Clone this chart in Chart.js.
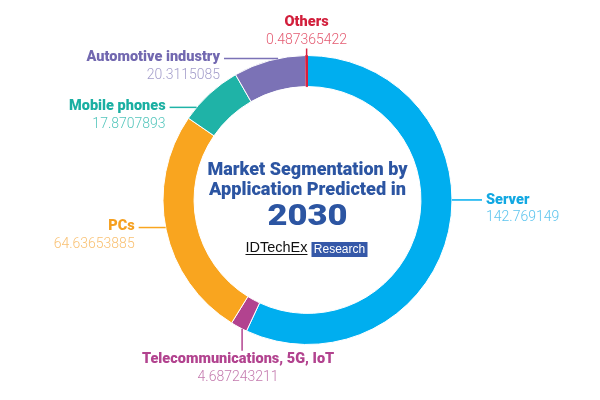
<!DOCTYPE html>
<html>
<head>
<meta charset="utf-8">
<script src="https://cdn.jsdelivr.net/npm/chart.js@4.4.1/dist/chart.umd.min.js"></script>
<style>
html,body{margin:0;padding:0;background:#fff;}
#wrap{width:600px;height:400px;position:relative;}
</style>
</head>
<body>
<div id="wrap"><canvas id="c" width="600" height="400"></canvas></div>
<script>
// ---- data ----
const categories = ['Server', 'Telecommunications, 5G, IoT', 'PCs', 'Mobile phones', 'Automotive industry', 'Others'];
const values = [142.769149, 4.687243211, 64.63653885, 17.8707893, 20.3115085, 0.487365422];
const valueLabels = ['142.769149', '4.687243211', '64.63653885', '17.8707893', '20.3115085', '0.487365422'];
const titleLines = ['Market Segmentation by', 'Application Predicted in'];
const yearLabel = '2030';
const brandName = 'IDTechEx';
const brandTag = 'Research';

// ---- styles ----
const sliceColors = ['#00AEEF', '#B2438F', '#F9A51F', '#1FB3A7', '#7B72B6', '#D81E3E'];
const nameColors  = ['#12A8E2', '#B2438F', '#F5A020', '#1AAFA2', '#7268B0', '#D21F3C'];
const valColors   = ['#5CC4EE', '#C47AAE', '#F9C173', '#55C6BC', '#A49ECB', '#E45C72'];
// leader layout: fraction within slice where leader meets ring, direction, length
const leaders = [
  {f: 0.439, dir: 'right', len: 30},
  {f: 0.29,  dir: 'down',  len: 22},
  {f: 0.51,  dir: 'left',  len: 27},
  {f: 0.21,  dir: 'left',  len: 27},
  {f: 0.62,  dir: 'left',  len: 54},
  {f: 0.5,   dir: 'up',    len: 7}
];
const titleColor = '#2C55A2';

function fitText(ctx, text, x, y, targetW) {
  const w = ctx.measureText(text).width;
  ctx.save();
  ctx.translate(x, y);
  ctx.scale(targetW / w, 1);
  ctx.fillText(text, 0, 0);
  ctx.restore();
}

const labelPlugin = {
  id: 'outLabels',
  afterDatasetsDraw(chart) {
    const ctx = chart.ctx;
    const meta = chart.getDatasetMeta(0);
    meta.data.forEach((arc, i) => {
      const p = arc.getProps(['x','y','startAngle','endAngle','outerRadius'], true);
      const L = leaders[i];
      const a = p.startAngle + L.f * (p.endAngle - p.startAngle);
      const x0 = p.x + p.outerRadius * Math.cos(a);
      const y0 = p.y + p.outerRadius * Math.sin(a);
      let x1 = x0, y1 = y0;
      if (L.dir === 'left') x1 = x0 - L.len;
      else if (L.dir === 'right') x1 = x0 + L.len;
      else if (L.dir === 'up') y1 = y0 - L.len;
      else y1 = y0 + L.len;
      ctx.save();
      ctx.strokeStyle = sliceColors[i];
      ctx.lineWidth = 1.5;
      ctx.beginPath(); ctx.moveTo(x0, y0); ctx.lineTo(x1, y1); ctx.stroke();
      ctx.textBaseline = 'middle';
      const nameFont = '900 14.5px Roboto';
      const valFont = '300 14px Roboto';
      let nx, ny, vx, vy, align;
      if (L.dir === 'left') { align = 'right'; nx = vx = x1 - 4; ny = y1 - 1; vy = y1 + 17; }
      else if (L.dir === 'right') { align = 'left'; nx = vx = x1 + 4; ny = y1; vy = y1 + 18; }
      else if (L.dir === 'up') { align = 'center'; nx = vx = x1; vy = y1 - 8; ny = y1 - 26; }
      else { align = 'center'; nx = vx = x1 - 4; ny = y1 + 9; vy = y1 + 27; }
      ctx.textAlign = align;
      ctx.font = nameFont; ctx.fillStyle = nameColors[i];
      ctx.fillText(categories[i], nx, ny);
      ctx.font = valFont; ctx.fillStyle = valColors[i];
      ctx.fillText(valueLabels[i], vx, vy);
      ctx.restore();
    });
    // centre text
    const c = meta.data[0];
    const cx = c.x, cy = c.y;
    ctx.save();
    ctx.textAlign = 'center';
    ctx.textBaseline = 'middle';
    ctx.fillStyle = titleColor;
    ctx.font = '900 19px Roboto';
    fitText(ctx, titleLines[0], cx, cy - 30, 200);
    fitText(ctx, titleLines[1], cx, cy - 10, 197);
    ctx.font = '900 29px Roboto';
    fitText(ctx, yearLabel, cx, cy + 18, 80);
    // brand
    ctx.font = '14px "Liberation Sans"';
    ctx.textAlign = 'left';
    ctx.fillStyle = '#111';
    const bx = cx - 62, by = cy + 48;
    ctx.save();
    const bw0 = ctx.measureText(brandName).width;
    ctx.translate(bx, by);
    ctx.scale(62 / bw0, 1);
    ctx.fillText(brandName, 0, 0);
    ctx.restore();
    ctx.fillRect(bx, by + 6, 62, 1);
    ctx.fillStyle = '#3558A8';
    ctx.fillRect(cx + 4, cy + 42, 56, 15);
    ctx.fillStyle = '#fff';
    ctx.font = '12px "Liberation Sans"';
    ctx.textAlign = 'center';
    ctx.fillText(brandTag, cx + 32, cy + 50);
    ctx.restore();
  }
};

new Chart(document.getElementById('c'), {
  type: 'doughnut',
  data: {
    labels: categories,
    datasets: [{
      data: values,
      backgroundColor: sliceColors,
      borderColor: ['#fff', '#fff', '#fff', '#fff', '#fff', '#D81E3E'],
      borderWidth: 1
    }]
  },
  options: {
    responsive: false,
    animation: false,
    cutout: '78.5%',
    layout: { padding: { top: 55, bottom: 55, left: 15, right: 0 } },
    plugins: { legend: { display: false }, tooltip: { enabled: false } }
  },
  plugins: [labelPlugin]
});
</script>
</body>
</html>
